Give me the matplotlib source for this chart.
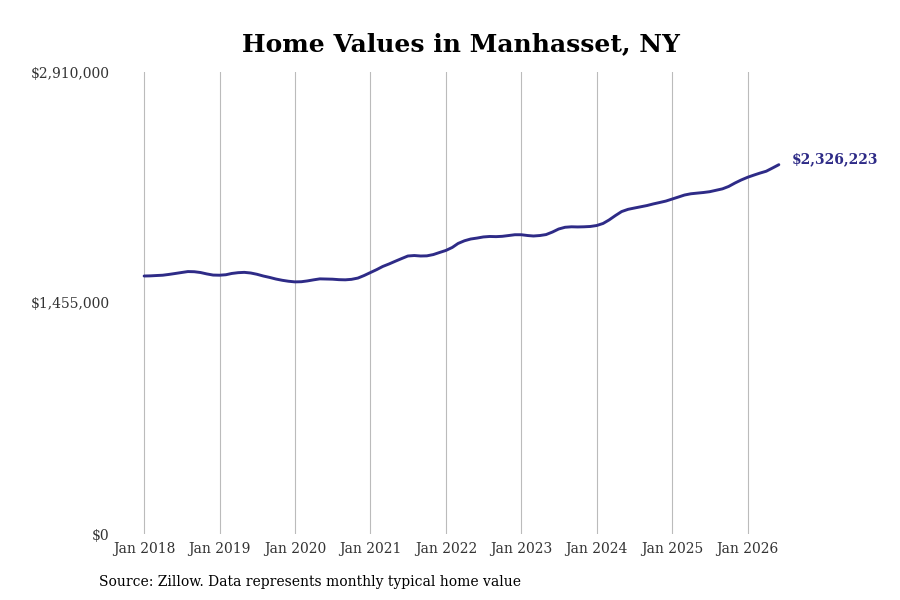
import pandas as pd
import matplotlib.pyplot as plt

# monthly typical home value, Jan 2018 - Jun 2026
values = [
    1625000, 1626000, 1628000, 1630000, 1635000, 1641000, 1647000, 1653000, 1652000, 1647000, 1638000, 1631000,
    1630000, 1633000, 1641000, 1646000, 1648000, 1644000, 1636000, 1625000, 1616000, 1606000, 1598000, 1592000,
    1588000, 1589000, 1594000, 1601000, 1607000, 1606000, 1605000, 1602000, 1601000, 1604000, 1612000, 1628000,
    1647000, 1666000, 1685000, 1701000, 1718000, 1735000, 1751000, 1754000, 1751000, 1752000, 1760000, 1773000,
    1786000, 1805000, 1830000, 1847000, 1858000, 1864000, 1871000, 1874000, 1873000, 1875000, 1880000, 1885000,
    1885000, 1880000, 1877000, 1880000, 1886000, 1902000, 1921000, 1932000, 1935000, 1934000, 1935000, 1937000,
    1943000, 1956000, 1978000, 2006000, 2031000, 2045000, 2053000, 2061000, 2069000, 2079000, 2088000, 2097000,
    2110000, 2123000, 2135000, 2143000, 2147000, 2151000, 2156000, 2165000, 2174000, 2189000, 2211000, 2230000,
    2247000, 2261000, 2273000, 2285000, 2305000, 2326223,
]
dates = pd.date_range("2018-01-01", periods=len(values), freq="MS")

y_ticks = [0, 1455000, 2910000]
y_labels = ["$0", "$1,455,000", "$2,910,000"]
x_years = list(range(2018, 2027))

line_color = "#2e2b87"

plt.rcParams["font.family"] = ["DejaVu Serif"]

fig = plt.figure(figsize=(9, 6), dpi=100)
ax = fig.add_axes([0.128, 0.11, 0.75, 0.77])

ax.plot(dates, values, color=line_color, linewidth=2.1, solid_capstyle="round")

ax.set_ylim(0, 2910000)
ax.set_xlim(pd.Timestamp("2017-08-14"), pd.Timestamp("2026-07-26"))

ax.set_yticks(y_ticks)
ax.set_yticklabels(y_labels)
ax.set_xticks([pd.Timestamp(f"{y}-01-01") for y in x_years])
ax.set_xticklabels([f"Jan {y}" for y in x_years])
ax.tick_params(axis="both", length=0, labelsize=10, colors="#333333")
ax.tick_params(axis="y", pad=4)
ax.tick_params(axis="x", pad=6)
for lab in ax.get_yticklabels():
    lab.set_verticalalignment("center_baseline")

ax.grid(axis="x", color="#bbbbbb", linewidth=0.8)
ax.grid(axis="y", visible=False)
for s in ax.spines.values():
    s.set_visible(False)

last = values[-1]
ax.annotate(f"${last:,}", xy=(dates[-1], last), xytext=(9, 4), textcoords="offset points",
            color=line_color, fontsize=10, fontweight="bold", va="center", ha="left",
            annotation_clip=False)

fig.text(0.512, 0.926, "Home Values in Manhasset, NY", ha="center", va="center",
         fontsize=18, fontweight="bold")
fig.text(0.11, 0.03, "Source: Zillow. Data represents monthly typical home value",
         ha="left", va="center", fontsize=10)

fig.savefig("out.png", dpi=100)
